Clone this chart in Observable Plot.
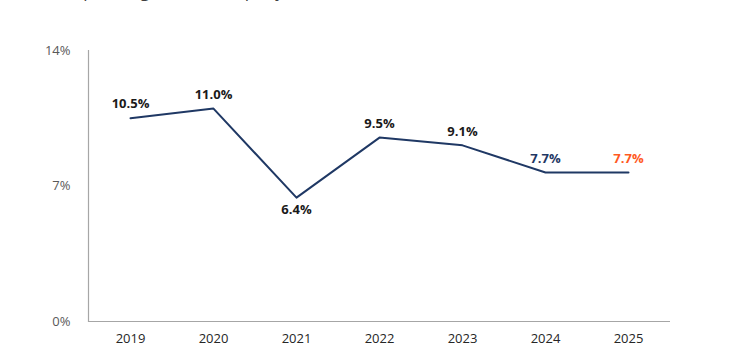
<!DOCTYPE html>
<html>
<head>
<meta charset="utf-8">
<script src="https://cdn.jsdelivr.net/npm/d3@7"></script>
<script src="https://cdn.jsdelivr.net/npm/@observablehq/plot@0.6"></script>
<style>
  html, body { margin: 0; padding: 0; background: #fff; }
  #wrap { position: relative; width: 750px; height: 350px; overflow: hidden; }
  #title { position: absolute; left: 70px; top: -19px; font: 17px/20px "Open Sans", "Liberation Sans", sans-serif; color: #404040; white-space: nowrap; z-index: 2; }
  #chart { position: absolute; left: 0; top: 0; }
</style>
</head>
<body>
<div id="wrap">
  <div id="chart"></div>
  <div id="title">Operating rate of company</div>
</div>
<script>
const years = ["2019", "2020", "2021", "2022", "2023", "2024", "2025"];
const values = [10.5, 11.0, 6.4, 9.5, 9.1, 7.7, 7.7];
const labelPos = ["above", "above", "below", "above", "above", "above", "above"];
const labelColors = ["#1a1a1a", "#1a1a1a", "#1a1a1a", "#1a1a1a", "#1a1a1a", "#1f3864", "#ff5a1f"];
const yTicks = [0, 7, 14];

const data = years.map((y, i) => ({year: y, value: values[i], pos: labelPos[i], color: labelColors[i]}));

const chart = Plot.plot({
  width: 750,
  height: 350,
  marginLeft: 88,
  marginRight: 80,
  marginTop: 50,
  marginBottom: 29,
  style: {fontFamily: "'Open Sans', 'Liberation Sans', sans-serif", background: "#fff"},
  x: {type: "point", domain: years, padding: 0.5, label: null},
  y: {domain: [0, 14], label: null},
  marks: [
    Plot.axisY({ticks: yTicks, tickSize: 0, tickPadding: 18, tickFormat: d => d + "%", fontSize: 13, color: "#595959"}),
    Plot.axisX({tickSize: 0, tickPadding: 12, fontSize: 13, color: "#262626"}),
    Plot.frame({anchor: "left", stroke: "#a6a6a6", strokeWidth: 1.2}),
    Plot.ruleY([0], {stroke: "#a6a6a6", strokeWidth: 1.2}),
    Plot.line(data, {x: "year", y: "value", stroke: "#1f3864", strokeWidth: 2}),
    Plot.text(data.filter(d => d.pos === "above"), {x: "year", y: "value", text: d => d.value.toFixed(1) + "%", dy: -14, fill: d => d.color, fontWeight: "bold", fontSize: 13}),
    Plot.text(data.filter(d => d.pos === "below"), {x: "year", y: "value", text: d => d.value.toFixed(1) + "%", dy: 12, fill: d => d.color, fontWeight: "bold", fontSize: 13})
  ]
});
document.getElementById("chart").appendChild(chart);
</script>
</body>
</html>
